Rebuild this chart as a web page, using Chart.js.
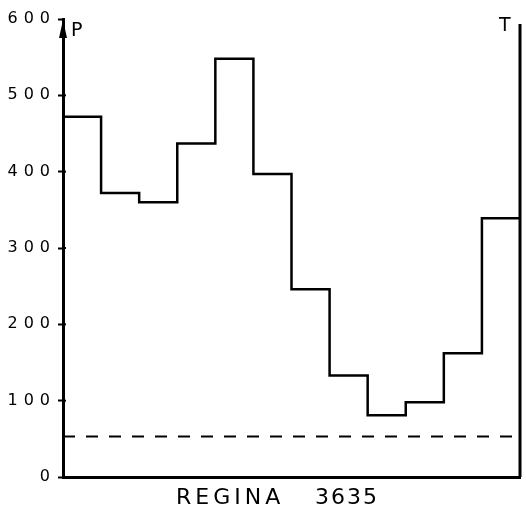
<!DOCTYPE html>
<html>
<head>
<meta charset="utf-8">
<script src="https://cdn.jsdelivr.net/npm/chart.js@4.4.1/dist/chart.umd.min.js"></script>
<style>
  html, body { margin: 0; padding: 0; background: #fff; }
  #wrap { width: 526px; height: 521px; }
</style>
</head>
<body>
<div id="wrap"><canvas id="stepChart" width="526" height="521"></canvas></div>
<script>
// valores (12 intervalos)
const bins = [1, 2, 3, 4, 5, 6, 7, 8, 9, 10, 11, 12];
const valores = [472, 372, 360, 437, 548, 397, 246, 133, 81, 98, 162, 339];
const umbral = 53;
const yTicks = [0, 100, 200, 300, 400, 500, 600];
const titulo = ["REGINA", "3635"];

const puntos = valores.map((v, i) => ({ x: bins[i] - 1, y: v }));
puntos.push({ x: bins.length, y: valores[valores.length - 1] });

const lineaUmbral = [{ x: 0, y: umbral }, { x: bins.length, y: umbral }];

const FUENTE = "'DejaVu Sans', sans-serif";

const extras = {
  id: "extras",
  beforeDraw(chart) {
    chart.ctx.letterSpacing = "6px";
  },
  afterDraw(chart) {
    const { ctx, chartArea: a } = chart;
    ctx.save();
    ctx.fillStyle = "#000";
    ctx.strokeStyle = "#000";
    // eje derecho T
    ctx.lineWidth = 3;
    ctx.beginPath();
    ctx.moveTo(a.right, a.top + 5);
    ctx.lineTo(a.right, a.bottom);
    ctx.stroke();
    // marcas que cruzan el eje P
    ctx.lineWidth = 2;
    yTicks.slice(1, 6).forEach(v => {
      const y = chart.scales.y.getPixelForValue(v);
      ctx.beginPath();
      ctx.moveTo(a.left, y);
      ctx.lineTo(a.left + 3, y);
      ctx.stroke();
    });
    // flecha del eje P
    ctx.beginPath();
    ctx.moveTo(a.left, a.top + 1);
    ctx.lineTo(a.left - 4, a.top + 19);
    ctx.lineTo(a.left + 4, a.top + 19);
    ctx.closePath();
    ctx.fill();
    ctx.letterSpacing = "0px";
    ctx.font = "19px " + FUENTE;
    ctx.textBaseline = "top";
    ctx.textAlign = "left";
    ctx.fillText("P", a.left + 8, a.top + 3);
    ctx.fillText("T", a.right - 21, a.top - 2);
    // titulo inferior
    ctx.letterSpacing = "4px";
    ctx.font = "22px " + FUENTE;
    ctx.fillText(titulo[0], 176, a.bottom + 10);
    ctx.letterSpacing = "2px";
    ctx.fillText(titulo[1], 315, a.bottom + 10);
    ctx.restore();
  }
};

new Chart(document.getElementById("stepChart").getContext("2d"), {
  type: "line",
  data: {
    datasets: [
      {
        data: puntos,
        stepped: true,
        borderColor: "#000",
        borderWidth: 2.5,
        pointRadius: 0,
        fill: false
      },
      {
        data: lineaUmbral,
        borderColor: "#000",
        borderWidth: 2,
        borderDash: [12, 11],
        pointRadius: 0,
        fill: false
      }
    ]
  },
  options: {
    responsive: false,
    animation: false,
    events: [],
    layout: { padding: { top: 19, right: 6, left: 0, bottom: 0 } },
    plugins: {
      legend: { display: false },
      tooltip: { enabled: false }
    },
    scales: {
      x: {
        type: "linear",
        min: 0,
        max: bins.length,
        grid: { display: false, drawTicks: false },
        border: { color: "#000", width: 3 },
        ticks: { display: false },
        afterFit(scale) { scale.height = 44; }
      },
      y: {
        min: 0,
        max: 600,
        afterBuildTicks(scale) { scale.ticks = yTicks.map(v => ({ value: v })); },
        grid: { drawOnChartArea: false, drawTicks: true, tickLength: 5, color: "#000", tickWidth: 2 },
        border: { color: "#000", width: 3 },
        ticks: {
          color: "#000",
          padding: 2,
          font: { family: FUENTE, size: 16 }
        },
        afterFit(scale) { scale.width = 63; }
      }
    }
  },
  plugins: [extras]
});
</script>
</body>
</html>
